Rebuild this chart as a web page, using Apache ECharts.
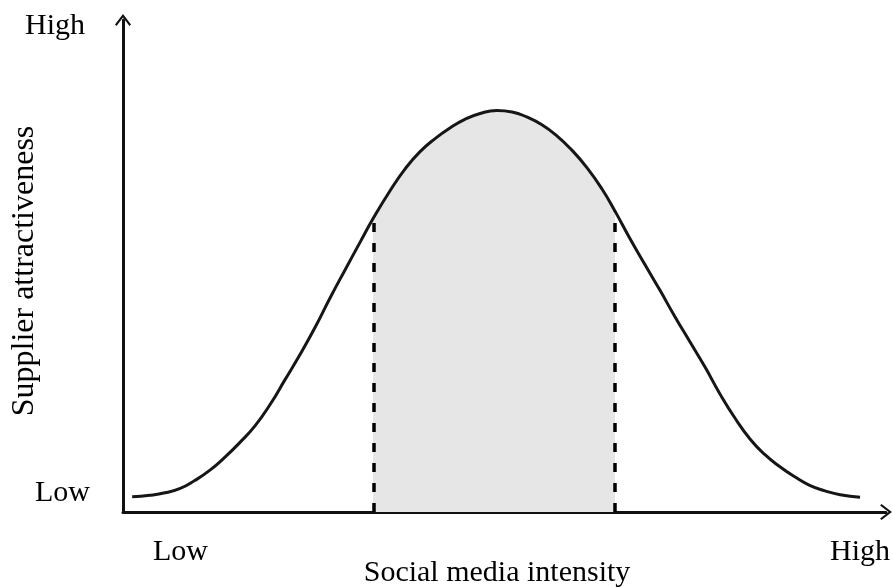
<!DOCTYPE html>
<html>
<head>
<meta charset="utf-8">
<script src="https://cdn.jsdelivr.net/npm/echarts@6.0.0/dist/echarts.min.js"></script>
<style>
html, body { margin: 0; padding: 0; background: #fff; }
#main { width: 893px; height: 588px; }
</style>
</head>
<body>
<div id="main"></div>
<script>
// curve (x: social media intensity, y: supplier attractiveness, 0..100)
var curveX = [1.2, 3.5, 5.5, 7.5, 9.4, 11.4, 13.4, 15.3, 17.3, 19.3, 21.2, 23.2, 25.2, 27.1, 29.1, 31.1, 32.8, 35.0, 37.0, 38.9, 40.9, 42.9, 44.8, 46.8, 49.0,
              51.0, 52.9, 54.9, 56.9, 58.8, 60.8, 62.8, 64.5, 66.4, 68.4, 70.4, 72.3, 74.3, 76.3, 78.2, 80.2, 82.2, 84.1, 86.1, 88.1, 90.0, 92.0, 94.0, 96.6];
var curveY = [3.1, 3.4, 3.9, 4.8, 6.4, 8.5, 11.2, 14.1, 17.5, 21.9, 26.8, 32.0, 37.6, 43.4, 49.2, 54.9, 59.7, 65.3, 69.8, 73.2, 75.9, 78.1, 79.8, 81.0, 81.6,
              81.3, 80.3, 78.7, 76.4, 73.6, 70.0, 65.6, 61.1, 55.7, 50.3, 45.0, 39.8, 34.6, 29.4, 24.1, 19.1, 14.8, 11.7, 9.2, 7.1, 5.4, 4.3, 3.5, 3.0];
var zoneStart = 32.8;
var zoneEnd = 64.5;
var zoneLabel = 'Optimum zone';
var xTitle = 'Social media intensity';
var yTitle = 'Supplier attractiveness';
var lowLabel = 'Low';
var highLabel = 'High';

(function(){
    var myChart = echarts.init(document.getElementById('main'));

    var pts = curveX.map(function(x, i){ return [x, curveY[i]]; });
    var yStart = curveY[curveX.indexOf(zoneStart)];
    var yEnd = curveY[curveX.indexOf(zoneEnd)];

    var chevron = 'path://M8,0 L16,10.4 L14.5,11.8 L8,3.3 L1.5,11.8 L0,10.4 Z';
    var font = '30px "Liberation Serif"';
    var axisLine = {
        show: true,
        symbol: ['none', chevron],
        symbolSize: [16, 12],
        lineStyle: { color: '#111', width: 3 }
    };

    var option = {
        animation: false,
        grid: { left: 123, right: 7, top: 20, bottom: 76 },
        xAxis: {
            type: 'value', min: 0, max: 100,
            axisLine: axisLine,
            axisTick: { show: false }, axisLabel: { show: false }, splitLine: { show: false }
        },
        yAxis: {
            type: 'value', min: 0, max: 100,
            axisLine: axisLine,
            axisTick: { show: false }, axisLabel: { show: false }, splitLine: { show: false }
        },
        visualMap: {
            show: false,
            type: 'piecewise',
            seriesIndex: 0,
            dimension: 0,
            pieces: [
                { lt: zoneStart, color: 'rgba(0,0,0,0)' },
                { gte: zoneStart, lte: zoneEnd, color: '#e6e6e6' },
                { gt: zoneEnd, color: 'rgba(0,0,0,0)' }
            ]
        },
        series: [
            {
                type: 'line',
                smooth: 0.5,
                symbol: 'none',
                data: pts,
                lineStyle: { width: 0 },
                areaStyle: { opacity: 1 },
                z: 1,
                markLine: {
                    silent: true,
                    symbol: ['none', 'none'],
                    label: { show: false },
                    lineStyle: { color: '#000', width: 3.5, type: [9, 11] },
                    data: [
                        [{ coord: [zoneStart, 0] }, { coord: [zoneStart, yStart] }],
                        [{ coord: [zoneEnd, 0] }, { coord: [zoneEnd, yEnd] }]
                    ]
                }
            },
            {
                type: 'line',
                smooth: 0.5,
                symbol: 'none',
                data: pts,
                lineStyle: { color: '#161616', width: 3 },
                z: 3
            }
        ],
        graphic: [
            { type: 'text', left: 25, top: 11, style: { text: highLabel, font: font, fill: '#000' } },
            { type: 'text', left: 35, top: 478, style: { text: lowLabel, font: font, fill: '#000' } },
            { type: 'text', left: 153, top: 537, style: { text: lowLabel, font: font, fill: '#000' } },
            { type: 'text', left: 830, top: 537, style: { text: highLabel, font: font, fill: '#000' } },
            { type: 'text', x: 497, y: 573, style: { text: xTitle, font: font, fill: '#000', align: 'center', verticalAlign: 'middle' } },
            { type: 'text', x: 498, y: 317, style: { text: zoneLabel, font: '31px "Liberation Serif"', fill: '#000', align: 'center', verticalAlign: 'middle' } },
            { type: 'text', x: 25, y: 271, rotation: Math.PI / 2, style: { text: yTitle, font: '32px "Liberation Serif"', fill: '#000', align: 'center', verticalAlign: 'middle' } }
        ]
    };

    myChart.setOption(option);
})();
</script>
</body>
</html>
